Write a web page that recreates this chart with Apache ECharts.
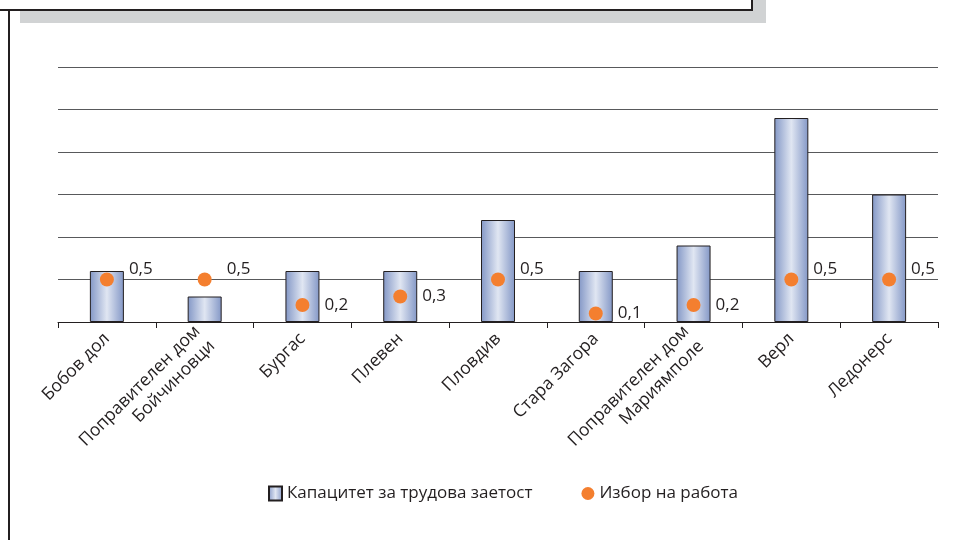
<!DOCTYPE html>
<html>
<head>
<meta charset="utf-8">
<script src="https://cdn.jsdelivr.net/npm/echarts@6/dist/echarts.min.js"></script>
<style>
html, body { margin: 0; padding: 0; background: #fff; }
#chart { width: 962px; height: 540px; }
</style>
</head>
<body>
<div id="chart"></div>
<script>
var categories = [
	'Бобов дол',
	'Поправителен дом\nБойчиновци',
	'Бургас',
	'Плевен',
	'Пловдив',
	'Стара Загора',
	'Поправителен дом\nМариямполе',
	'Верл',
	'Ледонерс'
];
var capacity = [0.6, 0.3, 0.6, 0.6, 1.2, 0.6, 0.9, 2.4, 1.5];
var jobChoice = [0.5, 0.5, 0.2, 0.3, 0.5, 0.1, 0.2, 0.5, 0.5];
var seriesNames = ['Капацитет за трудова заетост', 'Избор на работа'];

var font = 'Open Sans';

function comma(v) {
	return String(v).replace('.', ',');
}

// dots sitting on a gridline get their label lifted a bit
var dotData = jobChoice.map(function (v) {
	var onGrid = Math.abs(v / 0.5 - Math.round(v / 0.5)) < 1e-6;
	return {
		value: v,
		label: { offset: onGrid ? [10, -10] : [10, 0] }
	};
});

var myChart = echarts.init(document.getElementById('chart'));
var option = {
	animation: false,
	textStyle: { fontFamily: font },
	graphic: [
		{ type: 'rect', shape: { x: 20, y: 0, width: 746, height: 23 }, style: { fill: '#d1d3d4' } },
		{ type: 'rect', shape: { x: -2, y: -2, width: 754, height: 12 }, style: { fill: '#fff', stroke: '#231f20', lineWidth: 2 } },
		{ type: 'line', shape: { x1: 9, y1: 11, x2: 9, y2: 540 }, style: { stroke: '#231f20', lineWidth: 2 } }
	],
	grid: { left: 58, right: 24, top: 67, bottom: 218 },
	legend: {
		top: 480,
		left: 263,
		itemGap: 49,
		itemWidth: 13,
		itemHeight: 14,
		textStyle: { fontSize: 17, color: '#231f20', fontFamily: font },
		data: [
			{ name: seriesNames[0], icon: 'rect' },
			{ name: seriesNames[1], icon: 'circle' }
		]
	},
	xAxis: {
		type: 'category',
		data: categories,
		axisLine: { lineStyle: { color: '#231f20', width: 1 } },
		axisTick: { show: true, length: 6, lineStyle: { color: '#231f20' } },
		axisLabel: {
			rotate: 45,
			interval: 0,
			fontSize: 17.5,
			color: '#231f20',
			margin: 14,
			lineHeight: 21
		}
	},
	yAxis: {
		type: 'value',
		min: 0,
		max: 3,
		interval: 0.5,
		axisLabel: { show: false },
		axisLine: { show: false },
		axisTick: { show: false },
		splitLine: { lineStyle: { color: '#58595b', width: 1 } }
	},
	series: [
		{
			name: seriesNames[0],
			type: 'bar',
			data: capacity,
			barWidth: 34,
			itemStyle: {
				color: new echarts.graphic.LinearGradient(0, 0, 1, 0, [
					{ offset: 0, color: '#8397c6' },
					{ offset: 0.5, color: '#e0e6f2' },
					{ offset: 1, color: '#8397c6' }
				]),
				borderColor: '#231f20',
				borderWidth: 1
			}
		},
		{
			name: seriesNames[1],
			type: 'scatter',
			data: dotData,
			symbolSize: 14,
			itemStyle: { color: '#f47f2f', opacity: 1 },
			z: 5,
			label: {
				show: true,
				position: 'right',
				distance: 5,
				fontSize: 17,
				color: '#231f20',
				fontFamily: font,
				formatter: function (p) { return comma(p.value); }
			}
		}
	]
};
myChart.setOption(option);
</script>
</body>
</html>
